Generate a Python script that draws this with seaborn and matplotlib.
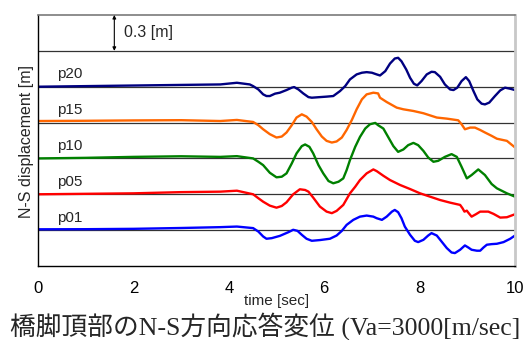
import numpy as np
import pandas as pd
import matplotlib
matplotlib.use("Agg")
import matplotlib.pyplot as plt
import seaborn as sns

# ---- data (displacement [m] of each pier top) ----
series_names = ["p20", "p15", "p10", "p05", "p01"]
series_colors = ["#000080", "#ff6600", "#008000", "#ff0000", "#0000ff"]
offsets = [1.2, 0.9, 0.6, 0.3, 0.0]

t_p20 = [0, 1, 2, 3, 3.82, 4.17, 4.44, 4.51, 4.62, 4.72, 4.79, 4.86, 4.97, 5.07, 5.21, 5.32,
         5.37, 5.46, 5.56, 5.67, 5.74, 5.91, 6.05, 6.19, 6.33, 6.44, 6.54, 6.68, 6.79, 6.89,
         7.00, 7.10, 7.17, 7.28, 7.38, 7.48, 7.55, 7.62, 7.72, 7.80, 7.88, 7.95, 8.04, 8.15,
         8.25, 8.32, 8.43, 8.53, 8.64, 8.71, 8.79, 8.88, 8.97, 9.04, 9.13, 9.21, 9.30, 9.37,
         9.46, 9.58, 9.69, 9.79, 9.90, 10.0]
d_p20 = [0.0, 0.005, 0.01, 0.015, 0.019, 0.033, 0.019, 0.005, -0.023, -0.064, -0.078, -0.078,
         -0.058, -0.05, -0.028, -0.008, -0.003, -0.023, -0.056, -0.087, -0.092, -0.087, -0.083,
         -0.078, -0.037, 0.005, 0.061, 0.103, 0.117, 0.122, 0.117, 0.103, 0.094, 0.13, 0.194,
         0.236, 0.242, 0.213, 0.144, 0.075, 0.025, 0.011, 0.047, 0.103, 0.125, 0.122, 0.083,
         0.019, -0.023, -0.028, -0.008, 0.047, 0.08, 0.047, -0.037, -0.106, -0.142, -0.148,
         -0.133, -0.078, -0.031, -0.008, -0.017, -0.028]

t_p15 = [0, 1, 2, 3, 3.82, 4.17, 4.51, 4.62, 4.72, 4.86, 5.00, 5.11, 5.21, 5.32, 5.42, 5.53,
         5.63, 5.74, 5.84, 5.95, 6.05, 6.16, 6.26, 6.37, 6.47, 6.58, 6.68, 6.79, 6.89, 7.03,
         7.13, 7.17, 7.31, 7.52, 7.66, 7.87, 8.08, 8.36, 8.57, 8.81, 8.88, 8.95, 9.06, 9.16,
         9.27, 9.37, 9.51, 9.62, 9.83, 10.0]
d_p15 = [0.013, 0.015, 0.018, 0.02, 0.013, 0.022, 0.005, -0.022, -0.056, -0.097, -0.125,
         -0.117, -0.083, -0.022, 0.042, 0.069, 0.05, 0.005, -0.056, -0.117, -0.153, -0.167,
         -0.158, -0.125, -0.062, 0.022, 0.111, 0.194, 0.236, 0.25, 0.244, 0.208, 0.172, 0.125,
         0.111, 0.097, 0.078, 0.042, 0.033, 0.019, -0.014, -0.056, -0.042, -0.042, -0.062,
         -0.083, -0.111, -0.135, -0.153, -0.208]

t_p10 = [0, 1, 2, 3, 3.82, 4.17, 4.51, 4.62, 4.72, 4.86, 5.00, 5.11, 5.21, 5.32, 5.42, 5.53,
         5.60, 5.69, 5.77, 5.88, 5.98, 6.09, 6.19, 6.30, 6.40, 6.47, 6.54, 6.65, 6.75, 6.86,
         6.96, 7.07, 7.13, 7.24, 7.34, 7.45, 7.55, 7.66, 7.76, 7.87, 7.97, 8.08, 8.18, 8.29,
         8.39, 8.53, 8.67, 8.78, 8.88, 8.99, 9.09, 9.23, 9.37, 9.51, 9.62, 9.83, 10.0]
d_p10 = [0.0, 0.005, 0.013, 0.018, 0.013, 0.019, 0.0, -0.028, -0.056, -0.12, -0.158, -0.153,
         -0.125, -0.042, 0.042, 0.103, 0.117, 0.097, 0.042, -0.056, -0.125, -0.189, -0.208,
         -0.195, -0.167, -0.098, -0.014, 0.097, 0.18, 0.25, 0.286, 0.297, 0.278, 0.25, 0.18,
         0.103, 0.055, 0.075, 0.111, 0.13, 0.111, 0.063, 0.008, -0.028, -0.02, 0.013, 0.036,
         0.013, -0.07, -0.167, -0.139, -0.092, -0.139, -0.214, -0.25, -0.292, -0.32]

t_p05 = [0, 1, 2, 3, 3.82, 4.17, 4.51, 4.62, 4.72, 4.86, 5.00, 5.11, 5.21, 5.35, 5.49, 5.60,
         5.67, 5.77, 5.91, 6.05, 6.16, 6.26, 6.40, 6.54, 6.65, 6.75, 6.89, 7.03, 7.10, 7.24,
         7.38, 7.59, 7.80, 8.01, 8.22, 8.43, 8.64, 8.85, 8.90, 8.94, 8.99, 9.02, 9.09, 9.18,
         9.27, 9.44, 9.55, 9.69, 9.83, 10.0]
d_p05 = [0.0, 0.004, 0.008, 0.018, 0.022, 0.03, 0.0, -0.033, -0.062, -0.095, -0.112, -0.098,
         -0.067, 0.0, 0.042, 0.036, 0.022, -0.028, -0.103, -0.145, -0.158, -0.139, -0.089,
         0.008, 0.063, 0.119, 0.175, 0.208, 0.194, 0.155, 0.119, 0.078, 0.044, 0.008, -0.02,
         -0.048, -0.07, -0.089, -0.117, -0.145, -0.137, -0.153, -0.187, -0.167, -0.145, -0.145,
         -0.164, -0.195, -0.192, -0.167]

t_p01 = [0, 1, 2, 3, 3.82, 4.17, 4.51, 4.62, 4.72, 4.79, 4.90, 5.07, 5.25, 5.35, 5.44, 5.53,
         5.63, 5.74, 5.91, 6.12, 6.26, 6.37, 6.47, 6.61, 6.75, 6.89, 7.03, 7.10, 7.21, 7.31,
         7.42, 7.48, 7.55, 7.62, 7.69, 7.80, 7.90, 7.97, 8.08, 8.18, 8.25, 8.36, 8.46, 8.57,
         8.67, 8.74, 8.85, 8.95, 9.02, 9.09, 9.20, 9.27, 9.34, 9.41, 9.51, 9.62, 9.76, 9.90,
         10.0]
d_p01 = [0.007, 0.008, 0.011, 0.018, 0.025, 0.03, 0.017, -0.012, -0.053, -0.072, -0.067,
         -0.048, -0.017, 0.003, -0.006, -0.039, -0.072, -0.089, -0.083, -0.072, -0.045, -0.006,
         0.044, 0.086, 0.113, 0.122, 0.113, 0.1, 0.086, 0.113, 0.155, 0.169, 0.15, 0.1, 0.03,
         -0.039, -0.089, -0.1, -0.081, -0.045, -0.025, -0.045, -0.095, -0.15, -0.187, -0.192,
         -0.164, -0.128, -0.145, -0.164, -0.172, -0.172, -0.145, -0.122, -0.117, -0.114, -0.1,
         -0.072, -0.045]

x_ticks = [0, 2, 4, 6, 8, 10]
x_label = "time [sec]"
y_label = "N-S displacement [m]"
scale_text = "0.3 [m]"
title_text = "橋脚頂部のN-S方向応答変位 (Va=3000[m/sec]"

# ---- build long table ----
times = [t_p20, t_p15, t_p10, t_p05, t_p01]
disps = [d_p20, d_p15, d_p10, d_p05, d_p01]
frames = []
for name, off, tt, dd in zip(series_names, offsets, times, disps):
    frames.append(pd.DataFrame({"time": tt, "disp": np.array(dd) + off, "pier": name}))
df = pd.concat(frames, ignore_index=True)

sns.set_style("white")
plt.rcParams["font.family"] = ["Liberation Sans", "DejaVu Sans"]

fig = plt.figure(figsize=(5.23, 3.40), dpi=100)
ax = fig.add_axes([38 / 523, 1 - 266 / 340, 477 / 523, 251 / 340])

sns.lineplot(data=df, x="time", y="disp", hue="pier", palette=dict(zip(series_names, series_colors)),
             hue_order=series_names, estimator=None, sort=False, linewidth=1.7, legend=False, ax=ax)
for ln in ax.lines:
    ln.set_solid_joinstyle("round")
    ln.set_solid_capstyle("round")

ax.set_xlim(0, 10)
ax.set_ylim(-0.3, 1.8)
ax.set_xticks(x_ticks)
ax.set_xticklabels([str(v) for v in x_ticks], fontsize=12)
ax.set_yticks([0, 0.3, 0.6, 0.9, 1.2, 1.5])
ax.set_yticklabels([])
ax.tick_params(axis="y", length=0)
ax.tick_params(axis="x", direction="in", length=4.5, width=0.8, color="black", pad=11, labelcolor="black")
ax.grid(axis="y", color="#333333", linewidth=0.9)
ax.grid(axis="x", visible=False)
ax.set_axisbelow(True)

for side, col, lw in [("left", "black", 1.0), ("bottom", "black", 1.0), ("top", "#7a7a7a", 1.2),
                      ("right", "#c8c8c8", 2.0)]:
    ax.spines[side].set_visible(True)
    ax.spines[side].set_color(col)
    ax.spines[side].set_linewidth(lw)

ax.set_xlabel(x_label, fontsize=11)
ax.xaxis.set_label_coords(0.5, -0.112)
ax.set_ylabel("")
fig.text(26 / 523, 1 - 141 / 340, y_label, rotation=90, ha="center", va="center", fontsize=11.5)

for name, off in zip(series_names, offsets):
    ax.text(0.4, off + 0.105, name, fontsize=11, ha="left", va="center")

ax.annotate("", xy=(1.6, 1.8), xytext=(1.6, 1.5),
            arrowprops=dict(arrowstyle="<|-|>", color="black", lw=0.8, mutation_scale=5,
                            shrinkA=0, shrinkB=0))
ax.text(1.8, 1.65, scale_text, fontsize=11.5, ha="left", va="center")

fig.text(10 / 523, 1 - 326 / 340, title_text, fontsize=18.5, ha="left", va="center",
         family=["Liberation Serif", "Noto Sans CJK JP"])

fig.savefig("out.png", dpi=100)
